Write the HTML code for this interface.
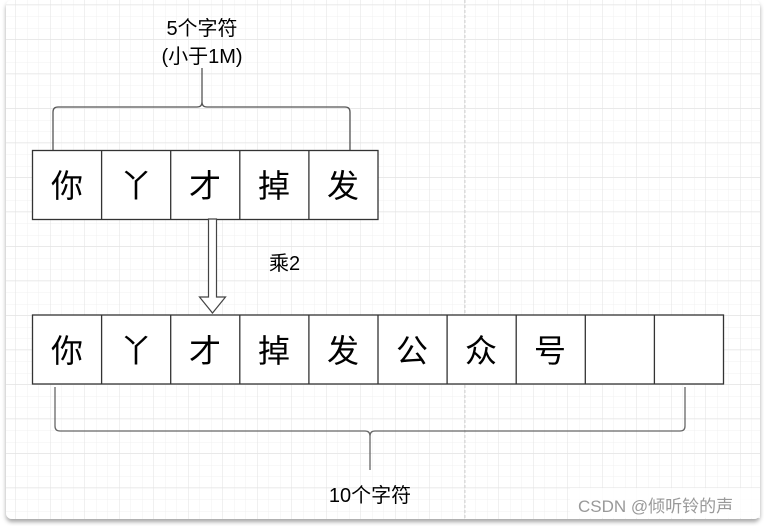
<!DOCTYPE html>
<html><head><meta charset="utf-8"><style>
html,body{margin:0;padding:0;background:#fff;width:764px;height:526px;overflow:hidden}
svg{display:block}
text{font-family:"Liberation Sans","Noto Sans CJK SC",sans-serif;fill:#000}
</style></head><body>
<svg width="764" height="526" viewBox="0 0 764 526" xmlns="http://www.w3.org/2000/svg">
<defs>
<pattern id="mi" x="4" y="5" width="11.5" height="11.5" patternUnits="userSpaceOnUse">
<path d="M0 0H11.5M0 0V11.5" stroke="#f0f0f0" stroke-width="1" fill="none"/>
</pattern>
<pattern id="ma" x="15.5" y="4.5" width="34.5" height="34.5" patternUnits="userSpaceOnUse">
<path d="M0 0H34.5M0 0V34.5" stroke="#e2e2e2" stroke-width="1" fill="none"/>
</pattern>
<filter id="sh" x="-5%" y="-5%" width="110%" height="115%"><feDropShadow dx="0" dy="3" stdDeviation="2" flood-color="#000" flood-opacity="0.35"/></filter>
</defs>
<rect width="764" height="526" fill="#fff"/>
<rect x="6" y="0" width="754" height="519" rx="6" fill="#fff" filter="url(#sh)"/>
<rect x="6" y="0" width="754" height="519" fill="url(#mi)"/>
<rect x="6" y="0" width="754" height="519" fill="url(#ma)"/>
<line x1="465" y1="0" x2="465" y2="519" stroke="#d5d5d5" stroke-dasharray="3,2"/>

<text x="202" y="35" font-size="20" text-anchor="middle">5个字符</text>
<text x="202" y="63" font-size="20" text-anchor="middle">(小于1M)</text>
<path d="M53 150V112Q53 107 58 107H197Q202 107 202 102V68M202 102Q202 107 207 107H345Q350 107 350 112V150" fill="none" stroke="#555" stroke-width="1.3"/>

<g stroke="#333" stroke-width="1.3" fill="#fff">
<rect x="32.5" y="150.5" width="345.5" height="69"/>
<path d="M101.6 150.5V219.5M170.7 150.5V219.5M239.8 150.5V219.5M308.9 150.5V219.5"/>
<rect x="32.5" y="315" width="691" height="69"/>
<path d="M101.6 315V384M170.7 315V384M239.8 315V384M308.9 315V384M378 315V384M447.1 315V384M516.2 315V384M585.3 315V384M654.4 315V384"/>
</g>
<g font-size="32" text-anchor="middle">
<text x="67" y="197">你</text><text x="136" y="197">丫</text><text x="205" y="197">才</text><text x="274" y="197">掉</text><text x="343" y="197">发</text>
<text x="67" y="362">你</text><text x="136" y="362">丫</text><text x="205" y="362">才</text><text x="274" y="362">掉</text><text x="343" y="362">发</text>
<text x="412" y="362">公</text><text x="481" y="362">众</text><text x="550" y="362">号</text>
</g>

<path d="M208.5 219V297H199.5L212.5 313L225.5 297H216.5V219Z" fill="#fff" stroke="#444" stroke-width="1.2"/>
<text x="269" y="270" font-size="20">乘2</text>

<path d="M55 387V426Q55 431 60 431H365Q370 431 370 436V470M370 436Q370 431 375 431H680Q685 431 685 426V387" fill="none" stroke="#666" stroke-width="1.3"/>
<text x="370" y="502" font-size="20" text-anchor="middle">10个字符</text>

<rect x="570" y="488" width="190" height="30" fill="#fff" opacity="0.8"/>
<text x="578" y="512" font-size="17" style="fill:#999">CSDN @倾听铃的声</text>
</svg>
</body></html>
